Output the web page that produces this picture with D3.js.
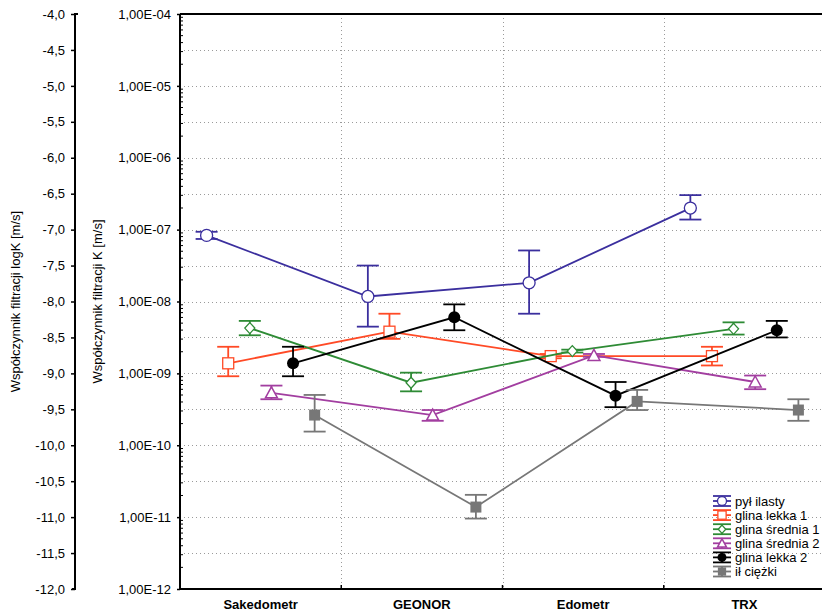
<!DOCTYPE html>
<html><head><meta charset="utf-8">
<script src="https://cdn.jsdelivr.net/npm/d3@7"></script>
<style>body{margin:0;background:#fff}svg{display:block;font-family:"Liberation Sans",Arial,sans-serif}</style>
</head><body><div id="chart"></div>
<script>
const categories = ["Sakedometr", "GEONOR", "Edometr", "TRX"];
const seriesNames = ["pył ilasty", "glina lekka 1", "glina średnia 1", "glina średnia 2", "glina lekka 2", "ił ciężki"];
const seriesColors = ["#3b2f9e", "#ff4a26", "#2e8b35", "#a23ea0", "#000000", "#777777"];
const seriesMarkers = ["circleOpen", "squareOpen", "diamondOpen", "triangleOpen", "circleFilled", "squareFilled"];

// log10 K values (mean) and error-bar ends
const pylIlasty      = [-7.08, -7.93, -7.74, -6.70];
const pylIlastyLo    = [-7.13, -8.35, -8.17, -6.86];
const pylIlastyHi    = [-7.03, -7.50, -7.29, -6.52];
const glinaLekka1    = [-8.86, -8.42, -8.76, -8.76];
const glinaLekka1Lo  = [-9.04, -8.52, -8.79, -8.89];
const glinaLekka1Hi  = [-8.63, -8.17, -8.73, -8.63];
const glinaSrednia1   = [-8.37, -9.13, -8.69, -8.38];
const glinaSrednia1Lo = [-8.47, -9.25, -8.71, -8.46];
const glinaSrednia1Hi = [-8.27, -8.99, -8.67, -8.29];
const glinaSrednia2   = [-9.27, -9.58, -8.75, -9.12];
const glinaSrednia2Lo = [-9.36, -9.66, -8.77, -9.22];
const glinaSrednia2Hi = [-9.17, -9.51, -8.73, -9.03];
const glinaLekka2    = [-8.86, -8.22, -9.31, -8.40];
const glinaLekka2Lo  = [-9.04, -8.40, -9.47, -8.50];
const glinaLekka2Hi  = [-8.63, -8.04, -9.12, -8.27];
const ilCiezki       = [-9.58, -10.86, -9.39, -9.51];
const ilCiezkiLo     = [-9.81, -11.02, -9.51, -9.66];
const ilCiezkiHi     = [-9.30, -10.69, -9.23, -9.36];

const logTicks = [-12, -11.5, -11, -10.5, -10, -9.5, -9, -8.5, -8, -7.5, -7, -6.5, -6, -5.5, -5, -4.5, -4];
const kTicks = [-12, -11, -10, -9, -8, -7, -6, -5, -4];

const allMeans = [pylIlasty, glinaLekka1, glinaSrednia1, glinaSrednia2, glinaLekka2, ilCiezki];
const allLo = [pylIlastyLo, glinaLekka1Lo, glinaSrednia1Lo, glinaSrednia2Lo, glinaLekka2Lo, ilCiezkiLo];
const allHi = [pylIlastyHi, glinaLekka1Hi, glinaSrednia1Hi, glinaSrednia2Hi, glinaLekka2Hi, ilCiezkiHi];

const W = 822, H = 614;
const pLeft = 180, pRight = 825, pTop = 14, pBottom = 589;
const svg = d3.select("#chart").append("svg").attr("width", W).attr("height", H);

const x = d3.scaleBand().domain(categories).range([pLeft, pRight]);
const y = d3.scaleLinear().domain([-12, -4]).range([pBottom, pTop]);
const step = x.step();
const offs = i => (i - 2.5) * step * 0.134;
const cx = (c, i) => x(c) + x.bandwidth() / 2 + offs(i);

// grid
const grid = svg.append("g").attr("stroke", "#9a9a9a").attr("stroke-width", 1).attr("stroke-dasharray", "1,3");
logTicks.filter(v => v > -12 && v < -4).forEach(v => {
  grid.append("line").attr("x1", pLeft).attr("x2", pRight).attr("y1", Math.round(y(v)) + 0.5).attr("y2", Math.round(y(v)) + 0.5);
});
categories.slice(1).forEach(c => {
  grid.append("line").attr("x1", Math.round(x(c)) + 0.5).attr("x2", Math.round(x(c)) + 0.5).attr("y1", pTop).attr("y2", pBottom);
});

// left logK axis
const ax1 = svg.append("g").attr("transform", "translate(75,0)")
  .call(d3.axisLeft(y).tickValues(logTicks).tickSize(4).tickPadding(6)
    .tickFormat(d => d.toFixed(1).replace(".", ",")));
ax1.selectAll("text").attr("font-size", 13).attr("fill", "#000").attr("font-family", "Liberation Sans, Arial, sans-serif");
ax1.select(".domain").attr("stroke-width", 2).attr("d", `M3,${pTop}H0V${pBottom}H-3`);
ax1.selectAll(".tick line").attr("stroke-width", 1.5);

// K axis
const ax2 = svg.append("g").attr("transform", `translate(${pLeft},0)`)
  .call(d3.axisLeft(y).tickValues(kTicks).tickSize(3).tickPadding(6)
    .tickFormat(d => "1,00E-" + String(-d).padStart(2, "0")));
ax2.selectAll("text").attr("font-size", 13).attr("fill", "#000").attr("font-family", "Liberation Sans, Arial, sans-serif");
ax2.select(".domain").attr("stroke-width", 2).attr("d", `M0,${pTop}V${pBottom}`);
ax2.selectAll(".tick line").attr("stroke-width", 1.5);
// minor log ticks
const minor = [];
for (let n = -12; n < -4; n++) for (let k = 2; k <= 9; k++) minor.push(n + Math.log10(k));
svg.append("g").selectAll("line").data(minor).join("line")
  .attr("x1", pLeft).attr("x2", pLeft + 3).attr("y1", d => y(d)).attr("y2", d => y(d))
  .attr("stroke", "#000").attr("stroke-width", 1);

// top frame
svg.append("line").attr("x1", pLeft).attr("x2", pRight).attr("y1", pTop).attr("y2", pTop).attr("stroke", "#000").attr("stroke-width", 2);

// x axis
const axx = svg.append("g").attr("transform", `translate(0,${pBottom})`);
axx.append("line").attr("x1", pLeft - 1).attr("x2", pRight).attr("stroke", "#000").attr("stroke-width", 2);
categories.slice(1).forEach(c => {
  axx.append("line").attr("x1", x(c)).attr("x2", x(c)).attr("y1", 0).attr("y2", -4).attr("stroke", "#000").attr("stroke-width", 1.5);
});
axx.selectAll("text").data(categories).join("text")
  .attr("x", d => x(d) + x.bandwidth() / 2).attr("y", 20)
  .attr("text-anchor", "middle").attr("font-size", 13).attr("font-weight", "bold").text(d => d);

// axis titles
svg.append("text").attr("transform", `translate(20,${(pTop + pBottom) / 2}) rotate(-90)`)
  .attr("text-anchor", "middle").attr("font-size", 13).text("Współczynnik filtracji logK [m/s]");
svg.append("text").attr("transform", `translate(102,${(pTop + pBottom) / 2}) rotate(-90)`)
  .attr("text-anchor", "middle").attr("font-size", 13).text("Współczynnik filtracji K [m/s]");

function marker(g, type, color, px, py, s) {
  if (type === "circleOpen") g.append("circle").attr("cx", px).attr("cy", py).attr("r", 6 * s).attr("fill", "#fff").attr("stroke", color).attr("stroke-width", 1.3);
  if (type === "circleFilled") g.append("circle").attr("cx", px).attr("cy", py).attr("r", 6 * s).attr("fill", color);
  if (type === "squareOpen") g.append("rect").attr("x", px - 5.5 * s).attr("y", py - 5.5 * s).attr("width", 11 * s).attr("height", 11 * s).attr("fill", "#fff").attr("stroke", color).attr("stroke-width", 1.3);
  if (type === "squareFilled") g.append("rect").attr("x", px - 5.5 * s).attr("y", py - 5.5 * s).attr("width", 11 * s).attr("height", 11 * s).attr("fill", color);
  if (type === "diamondOpen") g.append("path").attr("d", `M${px},${py - 5.5 * s}L${px + 5 * s},${py}L${px},${py + 5.5 * s}L${px - 5 * s},${py}Z`).attr("fill", "#fff").attr("stroke", color).attr("stroke-width", 1.3);
  if (type === "triangleOpen") g.append("path").attr("d", `M${px},${py - 6 * s}L${px + 6 * s},${py + 5 * s}L${px - 6 * s},${py + 5 * s}Z`).attr("fill", "#fff").attr("stroke", color).attr("stroke-width", 1.5);
}

const line = d3.line().x(d => d[0]).y(d => d[1]);
allMeans.forEach((vals, i) => {
  const g = svg.append("g");
  const color = seriesColors[i];
  const pts = categories.map((c, j) => [cx(c, i), y(vals[j])]);
  g.append("path").attr("d", line(pts)).attr("fill", "none").attr("stroke", color).attr("stroke-width", 1.8);
  categories.forEach((c, j) => {
    const px = cx(c, i), y1 = y(allHi[i][j]), y2 = y(allLo[i][j]);
    g.append("line").attr("x1", px).attr("x2", px).attr("y1", y1).attr("y2", y2).attr("stroke", color).attr("stroke-width", 1.8);
    [y1, y2].forEach(yy => g.append("line").attr("x1", px - 11).attr("x2", px + 11).attr("y1", yy).attr("y2", yy).attr("stroke", color).attr("stroke-width", 1.8));
    marker(g, seriesMarkers[i], color, px, y(vals[j]), 1);
  });
});

// legend
const lg = svg.append("g");
seriesNames.forEach((name, i) => {
  const ly = 501 + i * 14.1, lx = 722, color = seriesColors[i];
  [ly - 5, ly + 5].forEach(yy => lg.append("line").attr("x1", lx - 9).attr("x2", lx + 9).attr("y1", yy).attr("y2", yy).attr("stroke", color).attr("stroke-width", 1.8));
  lg.append("line").attr("x1", lx - 9).attr("x2", lx + 9).attr("y1", ly).attr("y2", ly).attr("stroke", color).attr("stroke-width", 1.8);
  lg.append("line").attr("x1", lx).attr("x2", lx).attr("y1", ly - 5).attr("y2", ly + 5).attr("stroke", color).attr("stroke-width", 1.8);
  marker(lg, seriesMarkers[i], color, lx, ly, 0.75);
  lg.append("text").attr("x", 735).attr("y", ly).attr("dy", "0.35em").attr("font-size", 13).text(name);
});
</script>
</body></html>
